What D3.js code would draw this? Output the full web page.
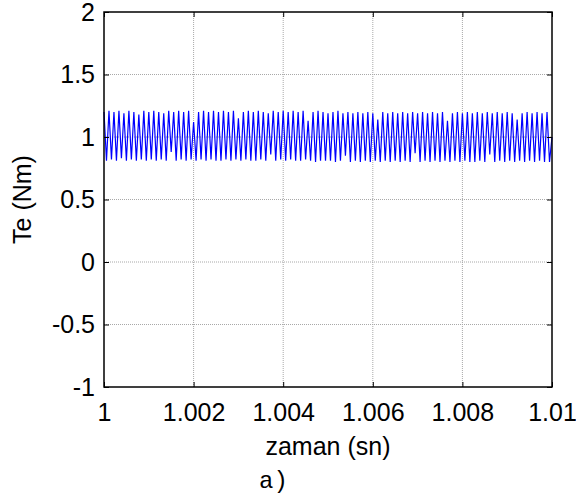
<!DOCTYPE html>
<html>
  <head>
    <style>
      body {
        margin: 0;
        background: #fff;
        font-family: "Liberation Sans", Arial, sans-serif;
      }
      .grid line {
        stroke: #a8a8a8;
        stroke-dasharray: 1,1;
      }
      .axis text {
        font-family: "Liberation Sans", Arial, sans-serif;
        font-size: 25px;
        fill: #000;
      }
      .axis line {
        stroke: #000;
      }
    </style>
  </head>

<body>
  <div id="chart"></div>

  <script src="https://d3js.org/d3.v7.min.js"></script>
  <script>

    // tick values and labels
    var xTicks = [1, 1.002, 1.004, 1.006, 1.008, 1.01];
    var xTickLabels = ["1", "1.002", "1.004", "1.006", "1.008", "1.01"];
    var yTicks = [-1, -0.5, 0, 0.5, 1, 1.5, 2];
    var yTickLabels = ["-1", "-0.5", "0", "0.5", "1", "1.5", "2"];

    // Te samples, one every half ripple period starting at t = 1 s
    var tStart = 1;
    var tStep = 0.01 / 180;
    var teValues = [
      1.20, 0.81, 1.21, 0.82, 1.20, 0.81, 1.21, 0.83, 1.19, 0.81,
      1.21, 0.82, 1.20, 0.81, 1.18, 0.82, 1.21, 0.81, 1.20, 0.82,
      1.21, 0.81, 1.20, 0.82, 1.19, 0.81, 1.21, 0.88, 1.20, 0.81,
      1.21, 0.82, 1.20, 0.81, 1.21, 0.82, 1.12, 0.81, 1.20, 0.82,
      1.21, 0.81, 1.20, 0.82, 1.21, 0.81, 1.20, 0.81, 1.21, 0.82,
      1.20, 0.81, 1.21, 0.82, 1.15, 0.81, 1.20, 0.82, 1.21, 0.81,
      1.20, 0.81, 1.21, 0.82, 1.20, 0.81, 1.19, 0.86, 1.21, 0.81,
      1.20, 0.82, 1.21, 0.81, 1.20, 0.82, 1.21, 0.81, 1.20, 0.81,
      1.21, 0.82, 1.13, 0.81, 1.20, 0.80, 1.21, 0.81, 1.20, 0.81,
      1.19, 0.81, 1.20, 0.80, 1.21, 0.81, 1.19, 0.85, 1.20, 0.80,
      1.19, 0.81, 1.20, 0.80, 1.19, 0.81, 1.20, 0.80, 1.19, 0.81,
      1.14, 0.80, 1.20, 0.81, 1.19, 0.80, 1.20, 0.81, 1.19, 0.80,
      1.20, 0.81, 1.19, 0.80, 1.20, 0.87, 1.19, 0.80, 1.20, 0.81,
      1.19, 0.80, 1.20, 0.81, 1.19, 0.80, 1.20, 0.81, 1.13, 0.80,
      1.19, 0.81, 1.20, 0.80, 1.19, 0.81, 1.20, 0.80, 1.19, 0.80,
      1.20, 0.81, 1.19, 0.80, 1.20, 0.86, 1.19, 0.80, 1.20, 0.81,
      1.19, 0.80, 1.20, 0.81, 1.19, 0.80, 1.14, 0.81, 1.19, 0.80,
      1.20, 0.81, 1.19, 0.80, 1.20, 0.81, 1.19, 0.80, 1.20, 0.80,
      1.00
    ];

    var width = 576, height = 501;
    var plotLeft = 104, plotRight = 552, plotTop = 12, plotBottom = 387;

    var svg = d3.select("#chart")
      .append("svg")
      .attr("width", width)
      .attr("height", height);

    var x = d3.scaleLinear()
      .domain([1, 1.01])
      .range([plotLeft, plotRight]);

    var y = d3.scaleLinear()
      .domain([-1, 2])
      .range([plotBottom, plotTop]);

    // dotted grid
    var grid = svg.append("g").attr("class", "grid");
    grid.selectAll(".gx")
      .data(xTicks.slice(1, -1))
      .enter()
      .append("line")
        .attr("x1", function(d) { return x(d); })
        .attr("x2", function(d) { return x(d); })
        .attr("y1", plotTop)
        .attr("y2", plotBottom);
    grid.selectAll(".gy")
      .data(yTicks.slice(1, -1))
      .enter()
      .append("line")
        .attr("y1", function(d) { return y(d); })
        .attr("y2", function(d) { return y(d); })
        .attr("x1", plotLeft)
        .attr("x2", plotRight);

    // torque trace
    var line = d3.line()
      .x(function(d, i) { return x(tStart + i * tStep); })
      .y(function(d) { return y(d); });

    svg.append("path")
      .datum(teValues)
      .attr("d", line)
      .attr("fill", "none")
      .attr("stroke", "#0000ff")
      .attr("stroke-width", 1.2);

    // axes with inward ticks
    svg.append("g")
      .attr("class", "axis")
      .attr("transform", "translate(0," + plotBottom + ")")
      .call(d3.axisBottom(x)
        .tickValues(xTicks)
        .tickFormat(function(d, i) { return xTickLabels[i]; })
        .tickSize(-5)
        .tickSizeOuter(0)
        .tickPadding(16));

    svg.append("g")
      .attr("class", "axis")
      .attr("transform", "translate(" + plotLeft + ",0)")
      .call(d3.axisLeft(y)
        .tickValues(yTicks)
        .tickFormat(function(d, i) { return yTickLabels[i]; })
        .tickSize(-5)
        .tickSizeOuter(0)
        .tickPadding(9));

    svg.append("g")
      .attr("class", "axis")
      .attr("transform", "translate(0," + plotTop + ")")
      .call(d3.axisTop(x).tickValues(xTicks).tickFormat("").tickSize(-5).tickSizeOuter(0));

    svg.append("g")
      .attr("class", "axis")
      .attr("transform", "translate(" + plotRight + ",0)")
      .call(d3.axisRight(y).tickValues(yTicks).tickFormat("").tickSize(-5).tickSizeOuter(0));

    svg.selectAll(".axis .domain").remove();

    svg.append("rect")
      .attr("x", plotLeft)
      .attr("y", plotTop)
      .attr("width", plotRight - plotLeft)
      .attr("height", plotBottom - plotTop)
      .attr("fill", "none")
      .attr("stroke", "#000")
      .attr("stroke-width", 1.5);

    // labels
    svg.append("text")
      .attr("x", (plotLeft + plotRight) / 2)
      .attr("y", 455)
      .style("text-anchor", "middle")
      .style("font-size", "25px")
      .text("zaman (sn)");

    svg.append("text")
      .attr("transform", "rotate(-90)")
      .attr("x", -(plotTop + plotBottom) / 2)
      .attr("y", 31)
      .style("text-anchor", "middle")
      .style("font-size", "25px")
      .text("Te (Nm)");

    svg.append("text")
      .attr("x", 259)
      .attr("y", 488)
      .style("font-family", "'Liberation Mono', 'Courier New', monospace")
      .style("font-size", "24px")
      .text("a)");

  </script>
</body>
</html>
